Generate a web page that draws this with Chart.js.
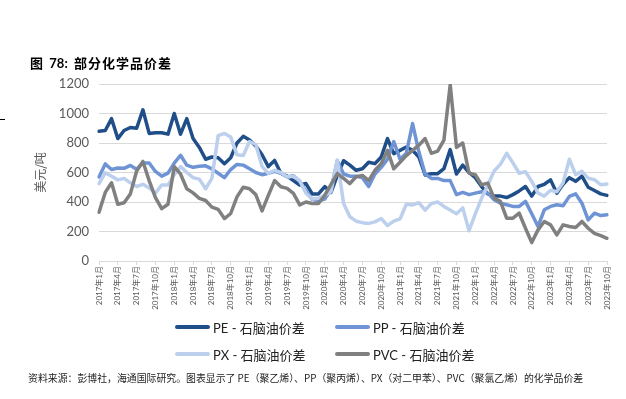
<!DOCTYPE html>
<html>
<head>
<meta charset="utf-8">
<script src="https://cdn.jsdelivr.net/npm/chart.js@4.4.1/dist/chart.umd.min.js"></script>
<style>
  body { margin: 0; background: #fff; }
  #page { position: relative; width: 626px; height: 399px; overflow: hidden; font-family: Lato, "Noto Sans CJK SC", sans-serif; }
  #chart { position: absolute; left: 0; top: 0; }
  .title { position: absolute; left: 30px; top: 53px; font-size: 13px; font-weight: bold; color: #000; white-space: nowrap; }
  .title .zh { letter-spacing: 1px; }
  .mark { position: absolute; left: 0; top: 119px; width: 5px; height: 1px; background: #000; }
  .legend-item { position: absolute; height: 16px; display: flex; align-items: center; font-size: 13px; color: #222; white-space: nowrap; }
  .legend-item span.line { display: inline-block; width: 35px; height: 4px; border-radius: 2px; margin-right: 3px; }
  .source { position: absolute; left: 28px; top: 371px; font-size: 9.9px; color: #222; white-space: nowrap; font-family: "Noto Sans CJK SC", sans-serif; }
</style>
</head>
<body>
<div id="page">
  <canvas id="chart" width="626" height="399"></canvas>
  <div class="mark"></div>
  <div class="title">图&nbsp;&nbsp;78:&nbsp;&nbsp;<span class="zh">部分化学品价差</span></div>
  <div id="legend"></div>
  <div class="source">资料来源：彭博社，海通国际研究。图表显示了 PE（聚乙烯）、PP（聚丙烯）、PX（对二甲苯）、PVC（聚氯乙烯）的化学品价差</div>
</div>
<script>
// monthly categories, 2017年1月 .. 2023年10月
const months = [];
for (let y = 2017; y <= 2023; y++) {
  for (let m = 1; m <= 12; m++) {
    if (y === 2023 && m > 10) break;
    months.push(y + "年" + m + "月");
  }
}

const seriesNames = ["PE - 石脑油价差", "PP - 石脑油价差", "PX - 石脑油价差", "PVC - 石脑油价差"];
const seriesColors = ["#1f4e89", "#6f94d6", "#bcd0ee", "#808080"];

const pe = [880, 885, 965, 830, 885, 905, 900, 1025, 865, 870,
  870, 860, 1000, 860, 965, 830, 770, 690, 705, 700,
  660, 700, 800, 845, 820, 780, 720, 640, 682, 595,
  575, 545, 515, 525, 455, 455, 505, 465, 580, 680,
  650, 615, 625, 670, 660, 705, 830, 728, 750, 773,
  750, 705, 583, 592, 592, 626, 755, 590, 650, 600,
  565, 505, 455, 440, 440, 430, 450, 475, 505, 440,
  505, 520, 550, 460, 520, 565, 540, 575, 500, 478,
  455, 445];

const pp = [570, 658, 620, 630, 628, 648, 622, 664, 664, 607,
  575, 596, 664, 717, 650, 635, 642, 645, 625, 595,
  565, 620, 655, 650, 625, 600, 585, 595, 608, 595,
  570, 578, 540, 475, 418, 408, 420, 488, 680, 590,
  575, 575, 565, 505, 590, 635, 690, 810, 690, 730,
  932, 740, 590, 560, 560, 545, 545, 450, 465, 450,
  460, 470, 460, 415, 392, 381, 370, 370, 404, 320,
  234, 347, 370, 381, 375, 438, 455, 392, 279, 324,
  308, 313];

const px = [525, 598, 575, 550, 560, 530, 505, 520, 495, 460,
  515, 515, 585, 640, 600, 565, 555, 490, 560, 850,
  865, 840, 720, 715, 810, 790, 640, 595, 615, 600,
  570, 575, 545, 460, 420, 425, 445, 470, 685, 390,
  300, 270, 260, 255, 265, 288, 240, 270, 285, 385,
  380, 395, 345, 390, 400, 370, 345, 320, 360, 205,
  320, 425, 515, 610, 655, 730, 665, 595, 605, 540,
  460, 440, 480, 470, 530, 690, 585, 608, 562, 551,
  517, 522];

const pvc = [330, 465, 530, 385, 395, 455, 610, 675, 545, 430,
  355, 385, 640, 590, 490, 462, 425, 410, 365, 350,
  288, 322, 435, 500, 490, 450, 340, 445, 545, 503,
  492, 458, 380, 400, 390, 390, 446, 520, 593, 560,
  525, 571, 580, 545, 615, 660, 750, 625, 670, 715,
  750, 785, 830, 730, 745, 820, 1195, 770, 800, 596,
  585, 517, 528, 426, 404, 290, 290, 324, 222, 125,
  211, 268, 245, 177, 245, 234, 227, 268, 222, 188,
  172, 154];

const yTicks = [0, 200, 400, 600, 800, 1000, 1200];

const allSeries = [pe, pp, px, pvc];

// html legend, two per row
const legendPos = [[175, 319], [335, 319], [175, 346], [335, 346]];
const legend = document.getElementById("legend");
seriesNames.forEach((name, i) => {
  const item = document.createElement("div");
  item.className = "legend-item";
  item.style.left = legendPos[i][0] + "px";
  item.style.top = legendPos[i][1] + "px";
  item.innerHTML = '<span class="line" style="background:' + seriesColors[i] + '"></span>' + name;
  legend.appendChild(item);
});

const axisFont = "Lato, 'Noto Sans CJK SC', sans-serif";

new Chart(document.getElementById("chart"), {
  type: "line",
  data: {
    labels: months,
    datasets: allSeries.map((d, i) => ({
      label: seriesNames[i],
      data: d,
      borderColor: seriesColors[i],
      backgroundColor: seriesColors[i],
      order: 4 - i,
    })),
  },
  options: {
    responsive: false,
    animation: false,
    layout: { padding: { left: 30, right: 19, top: 84, bottom: 78 } },
    elements: {
      point: { radius: 0 },
      line: { borderWidth: 3.5, tension: 0, borderJoinStyle: "round", borderCapStyle: "round" },
    },
    plugins: { legend: { display: false }, tooltip: { enabled: false } },
    scales: {
      x: {
        offset: false,
        grid: { drawOnChartArea: false, drawTicks: true, tickLength: 4, color: "#d9d9d9" },
        border: { color: "#d9d9d9" },
        ticks: {
          autoSkip: false,
          minRotation: 90,
          maxRotation: 90,
          padding: 1,
          color: "#595959",
          font: { size: 8, family: axisFont },
          callback: function (v, i) {
            return i % 3 === 0 ? this.getLabelForValue(v) : null;
          },
        },
        afterFit: (s) => { s.height = 60; },
      },
      y: {
        min: 0,
        max: 1200,
        afterBuildTicks: (s) => { s.ticks = yTicks.map((v) => ({ value: v })); },
        grid: { color: "#d9d9d9", drawTicks: false },
        border: { display: false },
        ticks: {
          padding: 10,
          color: "#595959",
          font: { size: 13, family: axisFont },
          callback: (v) => String(v),
        },
        title: {
          display: true,
          text: "美元/吨",
          color: "#595959",
          padding: { top: 3, bottom: 0 },
          font: { size: 12, family: "'Noto Sans CJK SC', sans-serif" },
        },
        afterFit: (s) => { s.width = 69; },
      },
    },
  },
});
</script>
</body>
</html>
